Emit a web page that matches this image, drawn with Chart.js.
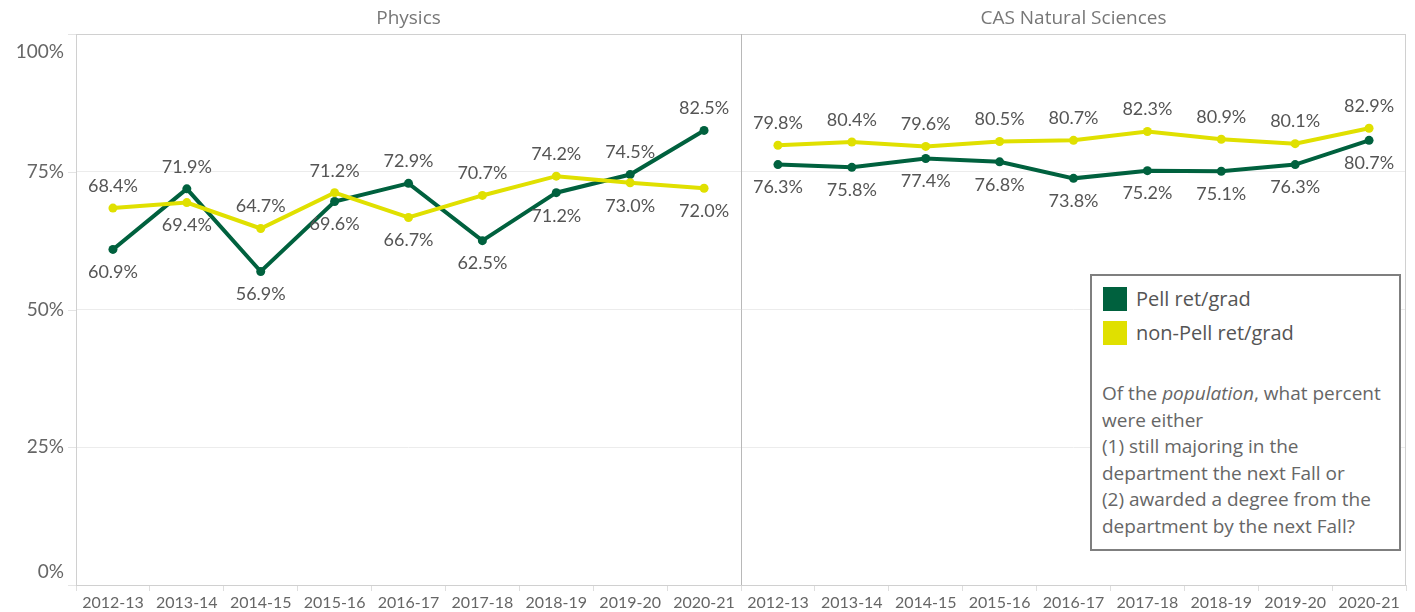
<!DOCTYPE html>
<html>
<head>
<meta charset="utf-8">
<script src="https://cdn.jsdelivr.net/npm/chart.js@4.4.1/dist/chart.umd.min.js"></script>
<style>
  html, body { margin: 0; padding: 0; background: #fff; }
  #wrap { position: relative; width: 1415px; height: 612px; }
  #legend {
    position: absolute; left: 1090px; top: 274px; width: 307px; height: 273px;
    border: 2px solid #7f7f7f; background: #fff;
    font-family: "Open Sans", sans-serif; color: #555;
  }
  .item { position: absolute; left: 11px; height: 24px; line-height: 24px; font-size: 20px; white-space: nowrap; }
  .item span { display: inline-block; width: 24px; height: 24px; vertical-align: top; margin-right: 9px; }
  #note { position: absolute; left: 10px; top: 104px; font-size: 19px; line-height: 26.6px; white-space: nowrap; color: #666; }
</style>
</head>
<body>
<div id="wrap">
  <canvas id="chart" width="1415" height="612"></canvas>
  <div id="legend">
    <div class="item" style="top:11px"><span style="background:#00613e"></span>Pell ret/grad</div>
    <div class="item" style="top:45px"><span style="background:#e0e000"></span>non-Pell ret/grad</div>
    <div id="note">Of the <i>population</i>, what percent<br>were either<br>(1) still majoring in the<br>department the next Fall or<br>(2) awarded a degree from the<br>department by the next Fall?</div>
  </div>
</div>
<script>
const categories = ['2012-13', '2013-14', '2014-15', '2015-16', '2016-17', '2017-18', '2018-19', '2019-20', '2020-21'];
const panels = ['Physics', 'CAS Natural Sciences'];

const physicsPell = [60.9, 71.9, 56.9, 69.6, 72.9, 62.5, 71.2, 74.5, 82.5];
const physicsNonPell = [68.4, 69.4, 64.7, 71.2, 66.7, 70.7, 74.2, 73.0, 72.0];
const casPell = [76.3, 75.8, 77.4, 76.8, 73.8, 75.2, 75.1, 76.3, 80.7];
const casNonPell = [79.8, 80.4, 79.6, 80.5, 80.7, 82.3, 80.9, 80.1, 82.9];

const yTicks = [0, 25, 50, 75, 100];

const GREEN = '#00613e';
const YELLOW = '#e0e000';
const none = categories.map(() => null);

function series(label, color, left, right, order) {
  return {
    label,
    data: left.concat(right),
    borderColor: color,
    backgroundColor: color,
    borderWidth: 4,
    pointRadius: 4.5,
    pointBorderWidth: 0,
    pointBackgroundColor: color,
    tension: 0,
    spanGaps: false,
    order
  };
}

const panelPlugin = {
  id: 'panels',
  beforeDatasetsDraw(chart) {
    const {ctx, chartArea: a, scales: {x, y}} = chart;
    const n = categories.length;
    const mid = (x.getPixelForValue(n - 1) + x.getPixelForValue(n)) / 2;
    ctx.save();
    // little tick stubs left of the plot
    ctx.lineWidth = 1;
    ctx.strokeStyle = '#e4e4e4';
    yTicks.forEach(v => {
      const py = Math.round(y.getPixelForValue(v)) + 0.5;
      ctx.beginPath();
      ctx.moveTo(a.left - 8, py);
      ctx.lineTo(a.left, py);
      ctx.stroke();
    });
    // frame
    ctx.strokeStyle = '#d0d0d0';
    ctx.strokeRect(a.left + 0.5, a.top + 0.5, a.right - a.left - 1, a.bottom - a.top);
    // divider between panels
    ctx.strokeStyle = '#b8b8b8';
    ctx.beginPath();
    ctx.moveTo(Math.round(mid) + 0.5, a.top);
    ctx.lineTo(Math.round(mid) + 0.5, a.bottom);
    ctx.stroke();
    // panel titles
    ctx.fillStyle = '#777';
    ctx.font = '19px "Open Sans"';
    ctx.textAlign = 'center';
    ctx.textBaseline = 'middle';
    ctx.fillText(panels[0], (a.left + mid) / 2, 19);
    ctx.fillText(panels[1], (mid + a.right) / 2, 19);
    // y labels
    ctx.fillStyle = '#666';
    ctx.font = '19px Lato';
    ctx.textAlign = 'right';
    yTicks.forEach(v => {
      let py = y.getPixelForValue(v);
      if (v === y.max) py += 18;
      if (v === y.min) py -= 13;
      ctx.fillText(v + '%', 64, py);
    });
    ctx.restore();
  },
  afterDatasetsDraw(chart) {
    const {ctx, scales: {x, y}} = chart;
    const groups = [[physicsPell, physicsNonPell], [casPell, casNonPell]];
    ctx.save();
    ctx.fillStyle = '#555';
    ctx.font = '18px Lato';
    ctx.textAlign = 'center';
    ctx.textBaseline = 'middle';
    groups.forEach(([pell, non], p) => {
      pell.forEach((v, i) => {
        const px = x.getPixelForValue(p * categories.length + i);
        const w = non[i];
        const hi = Math.max(v, w), lo = Math.min(v, w);
        ctx.fillText(hi.toFixed(1) + '%', px, y.getPixelForValue(hi) - 22);
        ctx.fillText(lo.toFixed(1) + '%', px, y.getPixelForValue(lo) + 23);
      });
    });
    ctx.restore();
  }
};

new Chart(document.getElementById('chart'), {
  type: 'line',
  data: {
    labels: categories.concat(categories),
    datasets: [
      series('Pell ret/grad', GREEN, physicsPell, none, 1),
      series('non-Pell ret/grad', YELLOW, physicsNonPell, none, 0),
      series('Pell ret/grad', GREEN, none, casPell, 1),
      series('non-Pell ret/grad', YELLOW, none, casNonPell, 0)
    ]
  },
  options: {
    responsive: false,
    animation: false,
    events: [],
    layout: {padding: {left: 76, top: 34, right: 9, bottom: 0}},
    plugins: {legend: {display: false}, tooltip: {enabled: false}},
    scales: {
      x: {
        offset: true,
        grid: {offset: true, drawOnChartArea: false, drawTicks: true, tickLength: 6, color: '#dedede'},
        border: {display: false},
        ticks: {font: {family: 'Lato', size: 16}, color: '#666', padding: 2, maxRotation: 0, autoSkip: false},
        afterFit(s) { s.height = 27; }
      },
      y: {
        min: 0,
        max: 100,
        ticks: {display: false, stepSize: 25},
        grid: {drawTicks: false, color: c => (c.tick.value === 0 || c.tick.value === 100) ? 'rgba(0,0,0,0)' : '#ececec'},
        border: {display: false},
        afterFit(s) { s.width = 0; }
      }
    }
  },
  plugins: [panelPlugin]
});
</script>
</body>
</html>
